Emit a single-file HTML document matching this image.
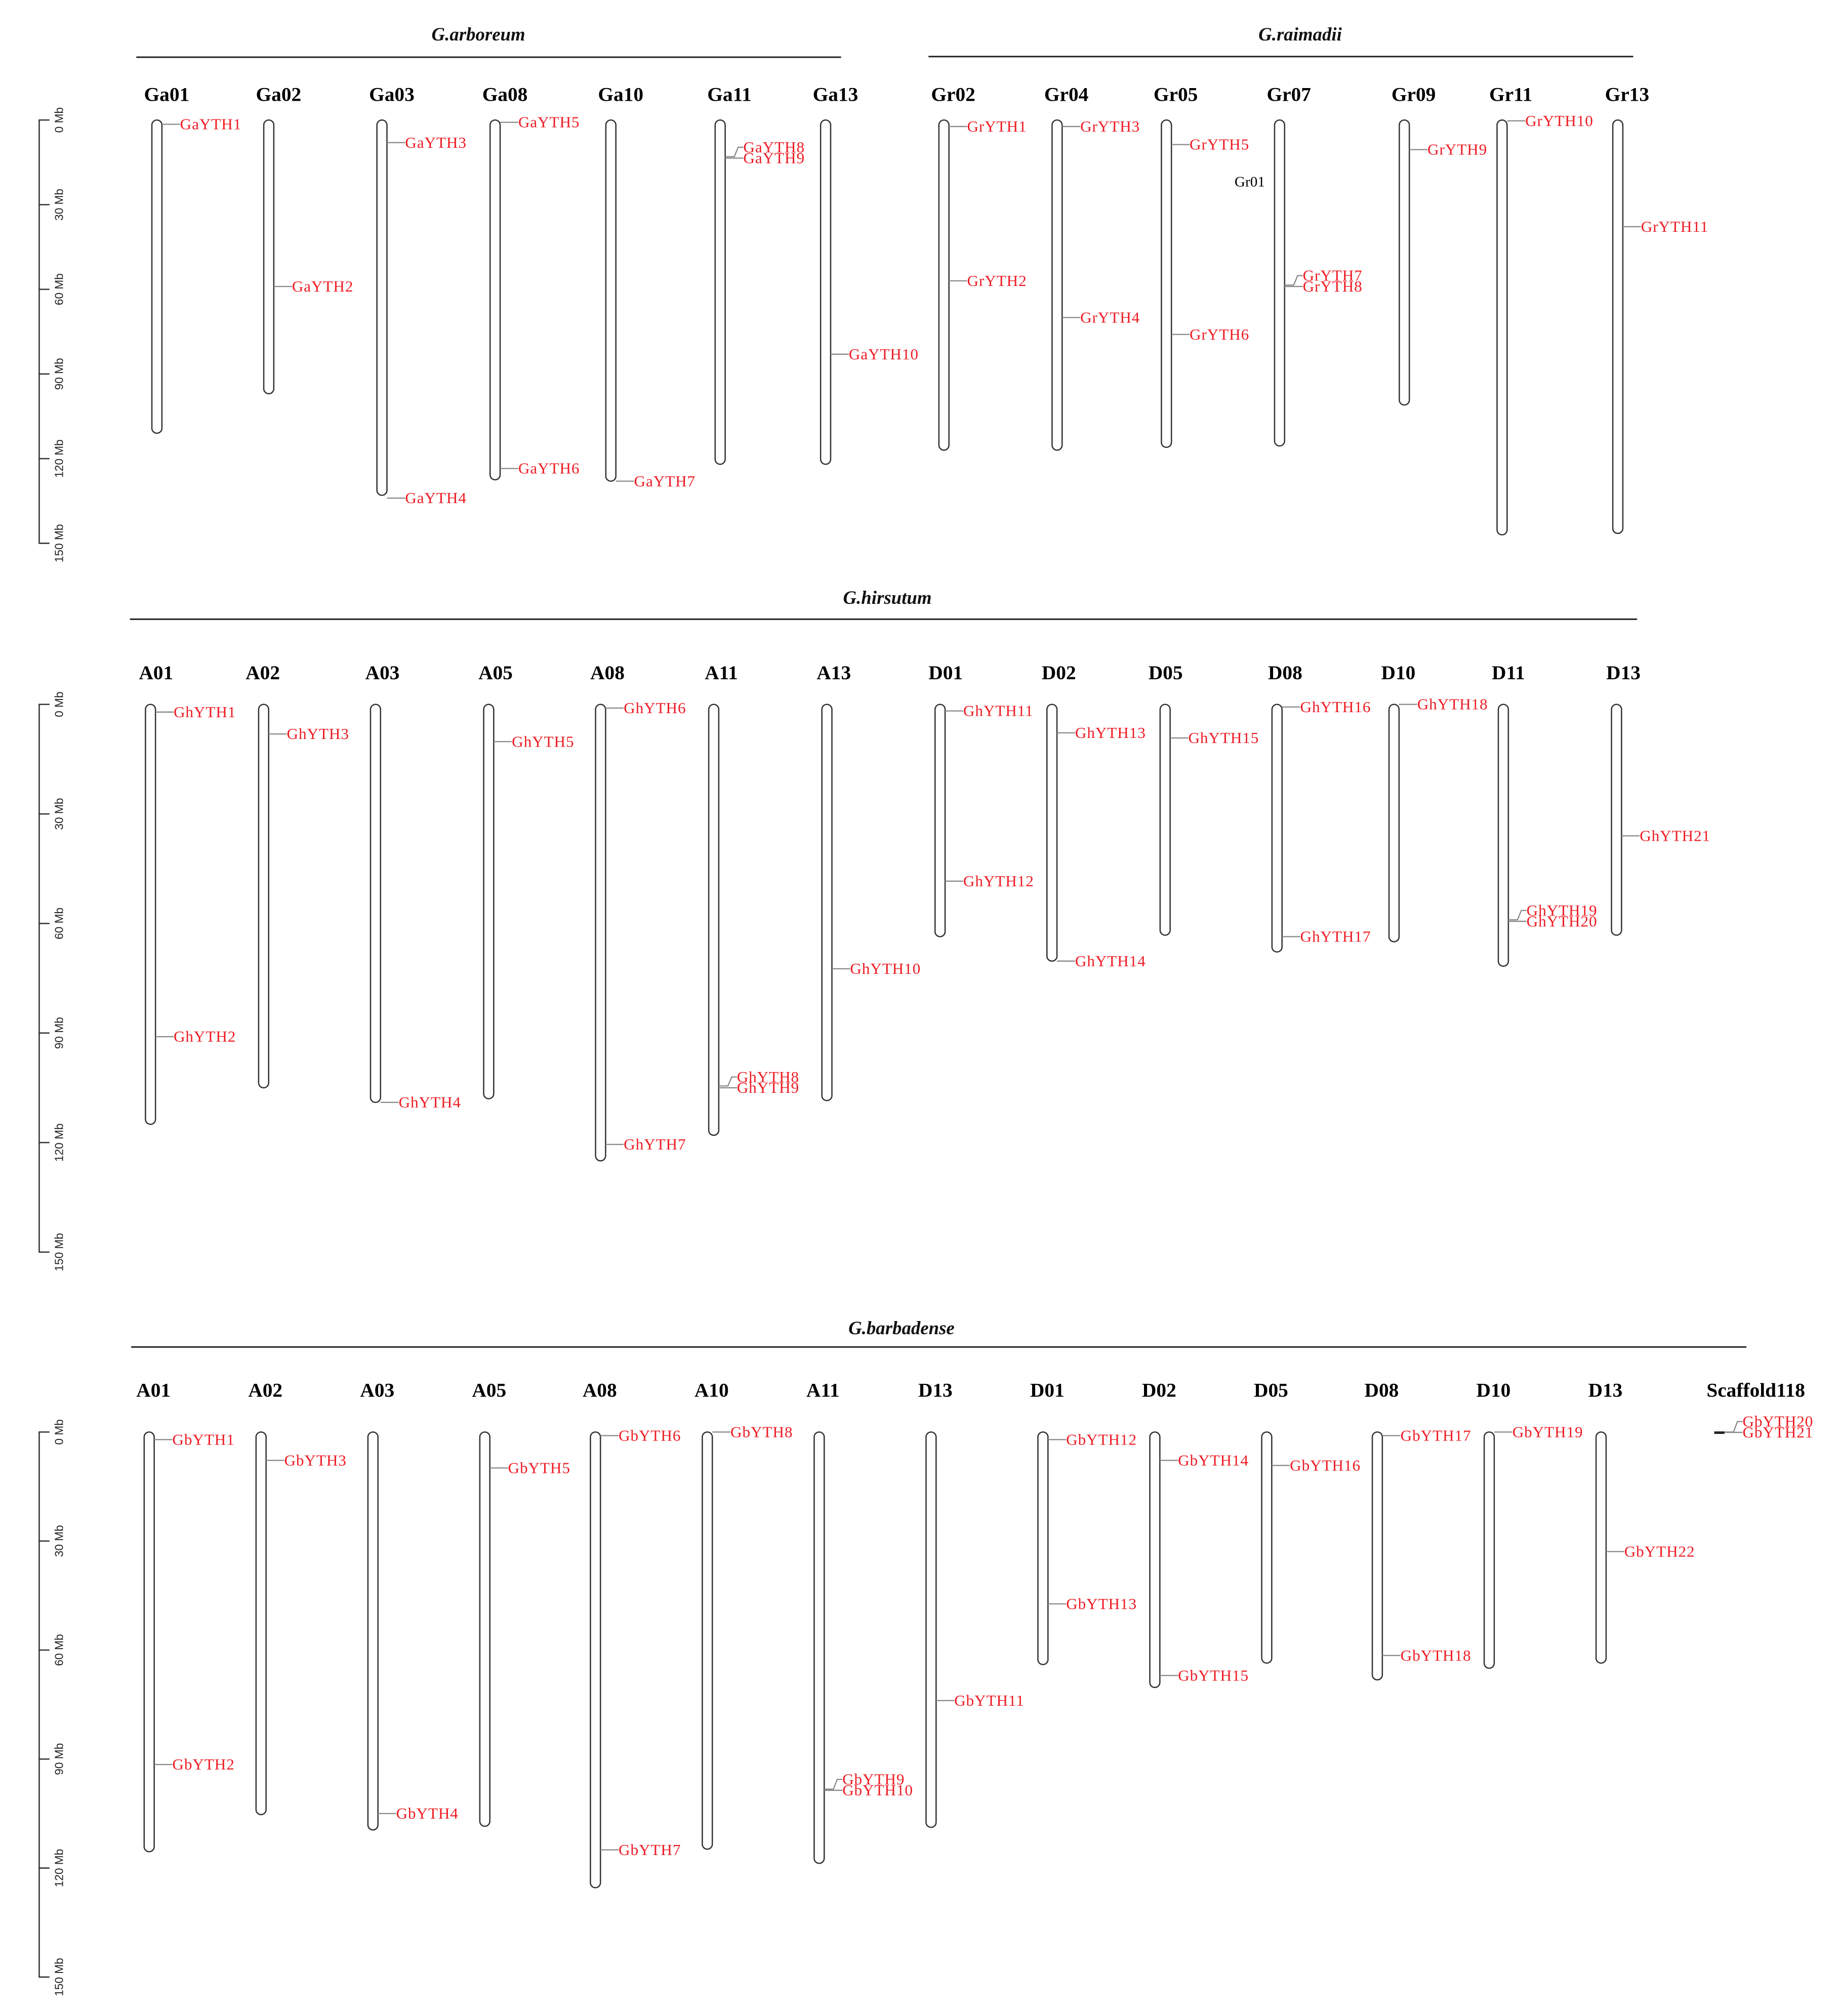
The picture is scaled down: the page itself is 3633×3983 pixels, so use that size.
<!DOCTYPE html>
<html><head><meta charset="utf-8">
<style>
html,body{margin:0;padding:0;background:#fff;}
svg{display:block;}
text{font-family:"Liberation Serif",serif;}
</style></head>
<body>
<svg id="chart" xmlns="http://www.w3.org/2000/svg" width="3633" height="3983" viewBox="0 0 1430 1579" preserveAspectRatio="none">
</svg>
<script>
// ---------- Panel 1 : G.arboreum + G.raimondii ----------
const p1Chroms = ["Ga01","Ga02","Ga03","Ga08","Ga10","Ga11","Ga13","Gr02","Gr04","Gr05","Gr07","Gr09","Gr11","Gr13"];
const p1Lengths = [111,97,133,127.5,128,122,122,117,117,116,115.5,101,147,146.5];
const p1GeneNames = ["GaYTH1","GaYTH2","GaYTH3","GaYTH4","GaYTH5","GaYTH6","GaYTH7","GaYTH8","GaYTH9","GaYTH10","GrYTH1","GrYTH2","GrYTH3","GrYTH4","GrYTH5","GrYTH6","GrYTH7","GrYTH8","GrYTH9","GrYTH10","GrYTH11"];
const p1GeneChrom = ["Ga01","Ga02","Ga03","Ga03","Ga08","Ga08","Ga10","Ga11","Ga11","Ga13","Gr02","Gr02","Gr04","Gr04","Gr05","Gr05","Gr07","Gr07","Gr09","Gr11","Gr13"];
const p1GenePos = [1.5,59,8,134,0.8,123.5,128,13,13.5,83,2.3,57,2.3,70,8.7,76,58.5,59,10.5,0.3,37.8];

// ---------- Panel 2 : G.hirsutum ----------
const p2Chroms = ["A01","A02","A03","A05","A08","A11","A13","D01","D02","D05","D08","D10","D11","D13"];
const p2Lengths = [115,105,109,108,125,118,108.5,63.6,70.3,63.2,67.8,65,71.7,63.2];
const p2GeneNames = ["GhYTH1","GhYTH2","GhYTH3","GhYTH4","GhYTH5","GhYTH6","GhYTH7","GhYTH8","GhYTH9","GhYTH10","GhYTH11","GhYTH12","GhYTH13","GhYTH14","GhYTH15","GhYTH16","GhYTH17","GhYTH18","GhYTH19","GhYTH20","GhYTH21"];
const p2GeneChrom = ["A01","A01","A02","A03","A05","A08","A08","A11","A11","A13","D01","D01","D02","D02","D05","D08","D08","D10","D11","D11","D13"];
const p2GenePos = [2.1,91,8.1,109,10.2,1,120.5,104.5,105,72.4,1.8,48.4,7.8,70.3,9.2,0.7,63.6,0,59,59.4,36];

// ---------- Panel 3 : G.barbadense ----------
const p3Chroms = ["A01","A02","A03","A05","A08","A10","A11","D13","D01","D02","D05","D08","D10","D13","Scaffold118"];
const p3Lengths = [115.5,105.3,109.5,108.5,125.4,114.8,118.7,108.8,64,70.3,63.6,68.2,65,63.6,0];
const p3GeneNames = ["GbYTH1","GbYTH2","GbYTH3","GbYTH4","GbYTH5","GbYTH6","GbYTH7","GbYTH8","GbYTH9","GbYTH10","GbYTH11","GbYTH12","GbYTH13","GbYTH14","GbYTH15","GbYTH16","GbYTH17","GbYTH18","GbYTH19","GbYTH20","GbYTH21","GbYTH22"];
const p3GeneChromIdx = [0,0,1,2,3,4,4,5,6,6,7,8,8,9,9,10,11,11,12,14,14,13];
const p3GenePos = [2.1,91.5,7.8,105,9.9,1,115,0,98.3,98.6,73.9,2.1,47.3,7.8,67,9.2,1,61.5,0,0,0.1,32.9];

const axisTicks = [0,30,60,90,120,150];
const axisTickLabels = ["0 Mb","30 Mb","60 Mb","90 Mb","120 Mb","150 Mb"];

// layout (pixel positions, not data)
const p1X = [122,209,297,385,475,560,642,734,822,907,995,1092,1168,1258];
const p2X = [117,205,292,380,467,555,643,731,818,906,993,1084,1169,1257];
const p3X = [116,203,290,377,463,550,637,724,811,898,985,1071,1158,1245,1337];
const p2LabelX = [108,191,284,372,459,548,635,722,810,893,986,1074,1160,1249];

const NS = "http://www.w3.org/2000/svg";
const svg = document.getElementById("chart");
function mk(tag, attrs, parent){
  const e = document.createElementNS(NS, tag);
  for (const k in attrs) e.setAttribute(k, attrs[k]);
  (parent||svg).appendChild(e);
  return e;
}

function drawAxis(top, scale, name){
  const g = mk("g", {});
  
  
  const yScale = v => top + v*scale;
  const ln = mk("line", {x1:30.5, x2:30.5, y1:yScale(0), y2:yScale(150), stroke:"#333", "stroke-width":1}, g);
  
  
  axisTicks.forEach((t,i)=>{
    const y = yScale(t);
    const tk = mk("line", {x1:30, x2:38.5, y1:y, y2:y, stroke:"#333", "stroke-width":1}, g);
    
    
    const tx = mk("text", {x:0, y:0, transform:`translate(49,${y}) rotate(-90)`, "text-anchor":"middle", "font-size":9, fill:"#222", style:'font-family:"Liberation Sans",sans-serif'}, g);
    tx.textContent = axisTickLabels[i];
    
    
  });
}

function drawTitle(text, x1, x2, tx, ty, ly){
  const t = mk("text", {x:tx, y:ty, "text-anchor":"middle", "font-size":14.5, "font-weight":"bold", "font-style":"italic", fill:"#111"});
  t.textContent = text;
  
  
  const l = mk("line", {x1:x1, x2:x2, y1:ly, y2:ly, stroke:"#222", "stroke-width":1.2});
  
  
}

function drawPanel(chroms, lengths, xs, genesName, genesChromIdx, genesPos, top, scale, labelY, labelXs){
  const yScale = v => top + v*scale;
  const W = 7.8;
  chroms.forEach((c,i)=>{
    const x = xs[i];
    const lab = mk("text", {x: labelXs ? labelXs[i] : x-10, y:labelY, "font-size":15.5, "font-weight":"bold", fill:"#000"});
    lab.textContent = c;
    
    
    if (lengths[i] <= 0.5){
      const d = mk("line", {x1:x-4, x2:x+4, y1:yScale(0)+0.5, y2:yScale(0)+0.5, stroke:"#222", "stroke-width":2});
      
      
    } else {
      const r = mk("rect", {x:x-W/2, y:yScale(0), width:W, height:yScale(lengths[i])-yScale(0), rx:W/2, ry:W/2, fill:"#fff", stroke:"#333", "stroke-width":1});
      
      
    }
  });
  const byChrom = {};
  genesName.forEach((n,i)=>{ (byChrom[genesChromIdx[i]] = byChrom[genesChromIdx[i]]||[]).push(i); });
  for (const ci in byChrom){
    const list = byChrom[ci].slice().sort((a,b)=>genesPos[a]-genesPos[b]);
    const x = xs[ci];
    const labelYs = new Array(list.length);
    for (let k=list.length-1;k>=0;k--){
      let y = yScale(genesPos[list[k]]);
      if (k<list.length-1) y = Math.min(y, labelYs[k+1]-8.5);
      labelYs[k] = y;
    }
    list.forEach((gi,k)=>{
      const gy = yScale(genesPos[gi]);
      const ly = labelYs[k];
      const x0 = x + W/2, xm = x + 11, xe = x + 18;
      const p = mk("polyline", {points:`${x0},${gy} ${xm},${gy} ${xm+3},${ly} ${xe},${ly}`, fill:"none", stroke:"#888", "stroke-width":0.9});
      
      
      const t = mk("text", {x:xe, y:ly+4, "font-size":12.3, "letter-spacing":0.35, fill:"#ee1c24"});
      t.textContent = genesName[gi];
      
      
    });
  }
}

// Panel 1
drawTitle("G.arboreum", 106, 654, 372, 31.7, 44.8);
drawTitle("G.raimadii", 722, 1270, 1011, 31.7, 44.3);
drawAxis(94, 2.21, "y-axis-arboreum-raimondii");
drawPanel(p1Chroms, p1Lengths, p1X, p1GeneNames, p1GeneChrom.map(c=>p1Chroms.indexOf(c)), p1GenePos, 94, 2.21, 79);
const gr01 = mk("text", {x:960, y:146, "font-size":11.5, fill:"#000"});
gr01.textContent = "Gr01";



// Panel 2
drawTitle("G.hirsutum", 101, 1273, 690, 473, 485);
drawAxis(551.7, 2.86, "y-axis-hirsutum");
drawPanel(p2Chroms, p2Lengths, p2X, p2GeneNames, p2GeneChrom.map(c=>p2Chroms.indexOf(c)), p2GenePos, 551.7, 2.86, 532, p2LabelX);

// Panel 3
drawTitle("G.barbadense", 102, 1358, 701, 1045, 1055);
drawAxis(1121.6, 2.846, "y-axis-barbadense");
drawPanel(p3Chroms, p3Lengths, p3X, p3GeneNames, p3GeneChromIdx, p3GenePos, 1121.6, 2.846, 1094);
</script>
</body></html>
